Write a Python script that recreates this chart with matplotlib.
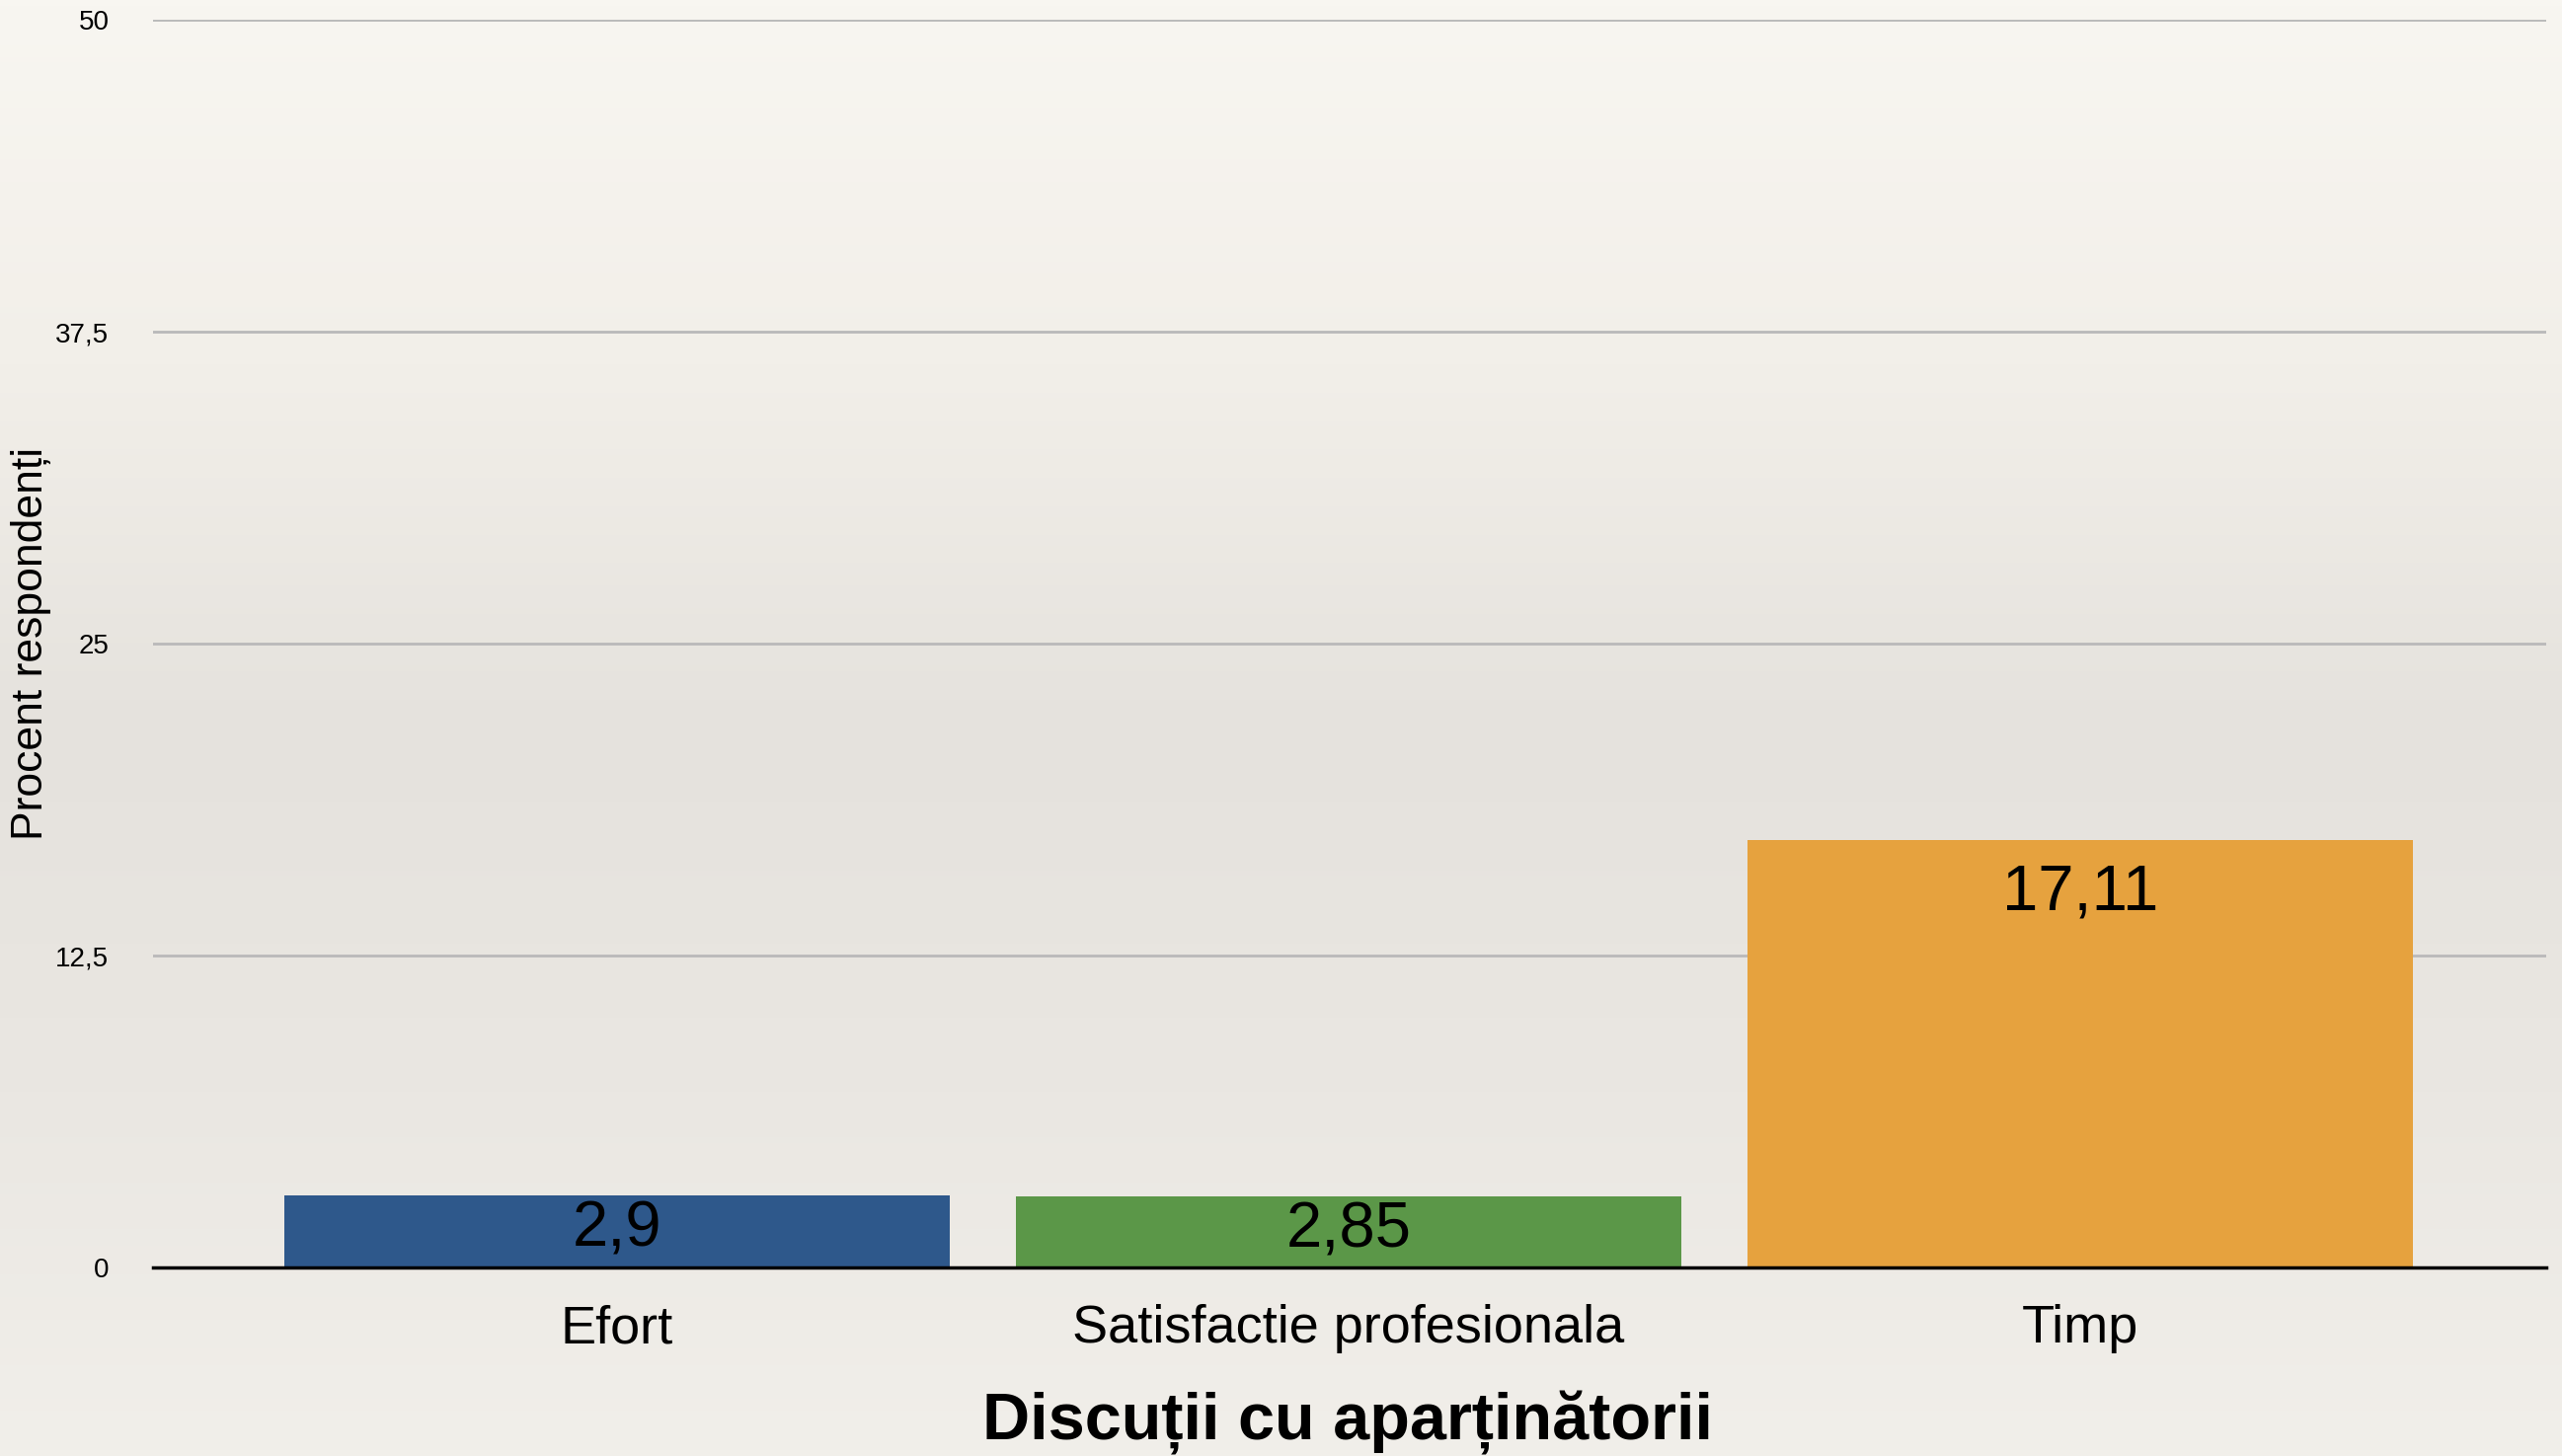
import numpy as np
import matplotlib
matplotlib.use("Agg")
import matplotlib.pyplot as plt
from matplotlib.colors import LinearSegmentedColormap

# date
categorii = ["Efort", "Satisfactie profesionala", "Timp"]
valori = [2.9, 2.85, 17.11]
etichete_valori = ["2,9", "2,85", "17,11"]
culori = ["#2e588b", "#5b9748", "#e6a23e"]
y_ticks = [0, 12.5, 25, 37.5, 50]
y_tick_labels = ["0", "12,5", "25", "37,5", "50"]
titlu = "Discuții cu aparținătorii"
eticheta_y = "Procent respondenți"

FONT = ["Liberation Sans Narrow", "Liberation Sans", "DejaVu Sans"]
plt.rcParams["font.family"] = FONT

fig = plt.figure(figsize=(25.95, 14.75), dpi=100)

# fundal tip hartie, gradient vertical
bg = fig.add_axes([0, 0, 1, 1], zorder=-10)
cmap = LinearSegmentedColormap.from_list(
    "hartie", ["#f8f6f1", "#f2efe9", "#e5e2dd", "#eae7e2", "#f1efea"])
grad = np.linspace(0, 1, 256).reshape(-1, 1)
bg.imshow(grad, aspect="auto", cmap=cmap, extent=[0, 1, 0, 1], origin="upper")
bg.set_axis_off()

ax = fig.add_axes([0.0597, 0.1295, 0.9341, 0.8569])
ax.patch.set_alpha(0)

x = np.arange(len(categorii))
bars = ax.bar(x, valori, width=0.91, color=culori, zorder=3)

for xi, v, lab in zip(x, valori, etichete_valori):
    pad = min(0.9, 0.07 * v)
    ax.text(xi, v - pad, lab, ha="center", va="top", fontsize=47,
            color="black", zorder=4)

ax.set_xlim(-0.634, 2.637)
ax.set_ylim(0, 50)
ax.set_yticks(y_ticks)
ax.set_yticklabels(y_tick_labels, fontsize=20)
ax.set_xticks(x)
ax.set_xticklabels(categorii, fontsize=39)
ax.tick_params(axis="x", length=0, pad=27)
ax.tick_params(axis="y", length=0, pad=32)

ax.grid(axis="y", color="#b9b9b9", linewidth=2, zorder=1)
for s in ["top", "right", "left"]:
    ax.spines[s].set_visible(False)
ax.spines["bottom"].set_color("black")
ax.spines["bottom"].set_linewidth(2.5)
ax.spines["bottom"].set_zorder(5)

fig.text(0.526, 0.011, titlu, ha="center", va="baseline", fontsize=48,
         fontweight="bold")
fig.text(0.012, 0.558, eticheta_y, ha="center", va="center", rotation=90,
         fontsize=32)

fig.savefig("out.png", dpi=100)
